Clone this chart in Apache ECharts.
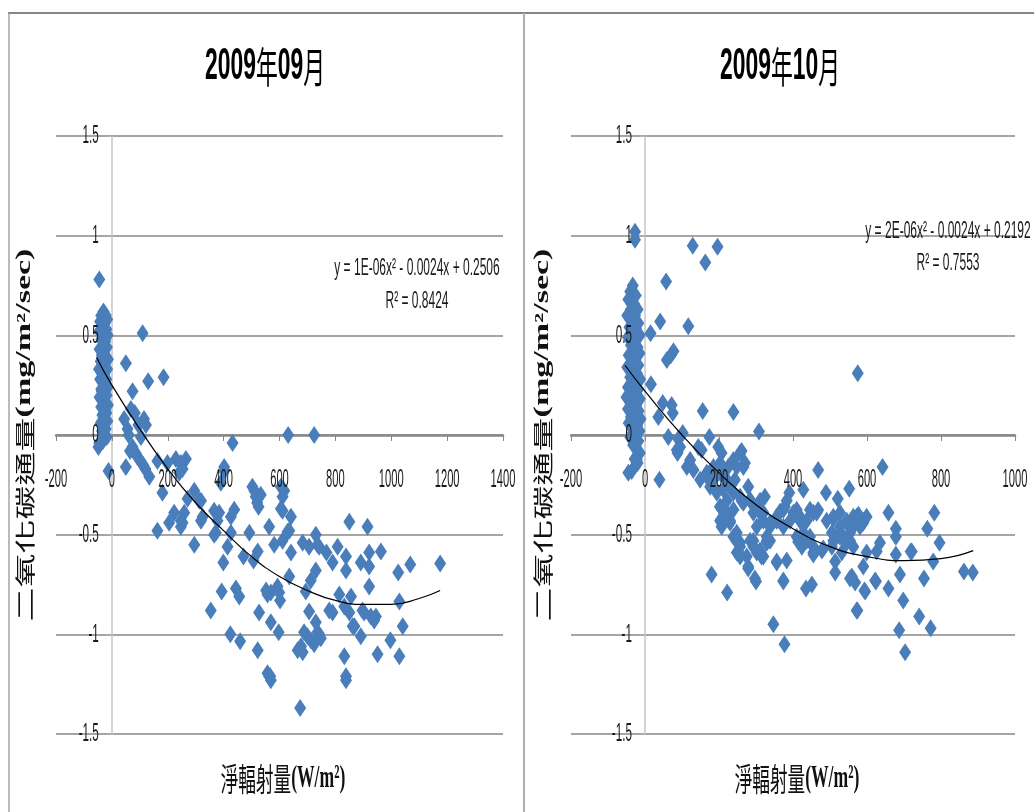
<!DOCTYPE html>
<html>
<head>
<meta charset="utf-8">
<script src="https://cdn.jsdelivr.net/npm/echarts@6/dist/echarts.min.js"></script>
<style>
html,body{margin:0;padding:0;background:#fff;}
#chart{width:1034px;height:812px;}
</style>
</head>
<body>
<div id="chart"></div>
<script>
// ---------------- DATA ----------------
var panelTitles = ['2009年09月', '2009年10月'];
var xAxisName = '淨輻射量(W/m²)';
var yAxisName = '二氧化碳通量(mg/m²/sec)';
var xTicksSep = [-200, 0, 200, 400, 600, 800, 1000, 1200, 1400];
var xTicksOct = [-200, 0, 200, 400, 600, 800, 1000];
var yTicks = [-1.5, -1, -0.5, 0, 0.5, 1, 1.5];
var yTickLabels = ['-1.5', '-1', '-0.5', '0', '0.5', '1', '1.5'];
var equationSep = ['y = 1E-06x² - 0.0024x + 0.2506', 'R² = 0.8424'];
var equationOct = ['y = 2E-06x² - 0.0024x + 0.2192', 'R² = 0.7553'];

// September: [net radiation, CO2 flux]
var sepPoints = [
[-30,0.62],[-38,0.60],[-22,0.60],[-42,0.57],[-26,0.56],[-17,0.58],[-34,0.54],[-20,0.53],[-45,0.52],[-28,0.50],
[-15,0.50],[-38,0.48],[-24,0.47],[-32,0.45],[-18,0.44],[-44,0.43],[-27,0.42],[-36,0.40],[-21,0.39],[-14,0.38],
[-40,0.37],[-30,0.36],[-24,0.34],[-46,0.33],[-17,0.33],[-35,0.31],[-28,0.30],[-42,0.28],[-20,0.28],[-32,0.26],
[-25,0.25],[-15,0.24],[-38,0.23],[-29,0.21],[-19,0.20],[-44,0.19],[-33,0.18],[-23,0.16],[-14,0.15],[-38,0.14],
[-28,0.13],[-20,0.11],[-34,0.10],[-25,0.08],[-16,0.07],[-40,0.06],[-30,0.05],[-22,0.03],[-35,0.02],[-27,0.00],
[-18,-0.01],[-32,-0.03],[-24,0.12],[-31,0.44],[-26,0.35],[-36,0.22],[-45,-0.04],[-48,-0.06],
[-45,0.78],[110,0.51],[50,0.36],[130,0.27],[185,0.29],[74,0.22],[44,0.08],[82,0.11],[122,0.05],[56,0.03],
[104,-0.01],[74,-0.06],[92,-0.11],[102,-0.13],[50,-0.16],[-12,-0.18],[65,-0.08],[85,-0.09],[112,-0.15],[120,-0.17],
[95,0.05],[68,0.13],[60,0.00],[115,0.08],[134,-0.21],[163,-0.13],[199,-0.14],[229,-0.12],[265,-0.12],[241,-0.19],
[247,-0.14],[253,-0.17],[181,-0.29],[223,-0.39],[259,-0.39],[271,-0.32],[295,-0.28],[313,-0.33],[319,-0.33],[319,-0.43],
[325,-0.41],[163,-0.48],[205,-0.44],[253,-0.44],[247,-0.43],[247,-0.46],[295,-0.55],[354,-0.88],
[366,-0.38],[384,-0.39],[378,-0.43],[372,-0.49],[366,-0.50],[402,-0.16],[390,-0.24],[402,-0.18],[426,-0.41],[438,-0.375],
[432,-0.04],[426,-0.49],[414,-0.56],[399,-0.64],[393,-0.785],[444,-0.77],[456,-0.81],[424,-1.0],[459,-1.035],[471,-0.61],
[492,-0.49],[503,-0.26],[510,-0.28],[515,-0.31],[520,-0.34],[525,-0.36],[533,-0.30],[507,-0.63],[522,-0.585],[527,-0.89],
[522,-1.08],[557,-1.195],[567,-1.21],[563,-1.21],[569,-1.23],[557,-0.80],[569,-0.79],[552,-0.78],[593,-0.76],[599,-0.79],
[602,-0.83],[569,-0.94],[597,-0.99],[581,-0.55],[563,-0.46],[605,-0.26],[611,-0.31],[617,-0.28],[605,-0.37],[611,-0.38],
[641,-0.41],[635,-0.48],[629,-0.485],[611,-0.53],[641,-0.59],[635,-0.71],[631,0.0],[724,0.0],
[665,-1.08],[677,-1.06],[683,-1.09],[674,-1.37],[683,-0.54],[706,-0.56],[694,-0.785],[712,-0.73],[706,-0.885],[730,-0.94],
[688,-0.99],[700,-1.01],[712,-1.03],[724,-1.05],[736,-0.99],[748,-1.02],[742,-1.0],[730,-0.50],[736,-0.55],[742,-0.56],
[730,-0.68],[768,-0.59],[790,-0.64],[778,-0.88],[790,-0.89],[808,-0.56],[814,-0.80],[832,-0.86],[832,-1.11],[838,-1.21],
[838,-1.23],[838,-0.61],[838,-0.68],[850,-0.435],[850,-0.89],[856,-0.81],[862,-0.96],[868,-0.96],[891,-0.64],[891,-1.01],
[897,-0.88],[903,-0.89],[915,-0.46],[921,-0.59],[921,-0.66],[921,-0.76],[927,-0.91],[939,-0.93],[945,-0.91],[951,-1.10],
[963,-0.585],[997,-1.03],[1025,-0.69],[1029,-0.835],[1029,-1.11],[1041,-0.96],[1068,-0.65],[1175,-0.645]
];

// October: [net radiation, CO2 flux]
var octPoints = [
[-33,0.75],[-40,0.72],[-25,0.70],[-45,0.68],[-30,0.66],[-20,0.63],[-38,0.63],[-48,0.60],[-27,0.60],[-35,0.57],
[-18,0.56],[-42,0.54],[-24,0.53],[-32,0.51],[-14,0.50],[-46,0.49],[-28,0.47],[-38,0.45],[-20,0.44],[-34,0.42],
[-15,0.41],[-44,0.40],[-26,0.38],[-36,0.36],[-18,0.35],[-48,0.34],[-30,0.32],[-22,0.31],[-40,0.29],[-13,0.28],
[-33,0.27],[-25,0.25],[-46,0.24],[-18,0.23],[-36,0.21],[-28,0.20],[-50,0.19],[-14,0.18],[-40,0.17],[-22,0.16],
[-32,0.14],[-46,0.13],[-17,0.12],[-27,0.11],[-38,0.09],[-12,0.08],[-30,0.07],[-44,0.06],[-21,0.05],[-35,0.03],
[-15,0.02],[-26,0.00],[-40,-0.01],[-18,-0.03],[-32,-0.05],[-22,-0.07],[-14,-0.09],[-28,-0.12],[-20,-0.14],[-36,-0.18],
[-22,-0.125],[-45,-0.19],[-27,1.02],[-27,0.98],[-31,0.55],[-25,0.43],[-29,0.37],[-24,0.15],[-37,0.26],
[57,0.77],[129,0.95],[196,0.945],[163,0.865],[41,0.57],[117,0.545],[15,0.51],[77,0.42],[59,0.376],[70,0.40],
[16,0.255],[48,0.16],[72,0.15],[75,0.11],[36,0.09],[156,0.12],[239,0.115],[308,0.017],[63,-0.01],[90,-0.02],
[95,-0.06],[88,-0.09],[102,0.01],[86,-0.075],[174,-0.01],[144,-0.06],[153,-0.075],[198,-0.06],[207,-0.09],[261,-0.08],
[270,-0.14],[239,-0.125],[248,-0.16],[39,-0.225],[575,0.31],
[113,-0.16],[131,-0.175],[122,-0.125],[167,-0.19],[149,-0.225],[176,-0.26],[185,-0.16],[203,-0.14],[212,-0.21],[225,-0.16],
[243,-0.225],[257,-0.09],[266,-0.16],[194,-0.29],[203,-0.36],[221,-0.33],[212,-0.43],[207,-0.46],[239,-0.375],[230,-0.43],
[248,-0.49],[257,-0.56],[257,-0.61],[261,-0.33],[279,-0.26],[284,-0.33],[293,-0.39],[279,-0.66],[293,-0.53],[302,-0.46],
[311,-0.33],[320,-0.39],[324,-0.31],[315,-0.61],[300,-0.735],[329,-0.53],[338,-0.46],[356,-0.64],[374,-0.735],[383,-0.63],
[356,-0.41],[374,-0.375],[392,-0.43],[383,-0.33],[410,-0.375],[419,-0.43],[428,-0.49],[437,-0.53],[455,-0.56],[446,-0.375],
[464,-0.39],[428,-0.275],[455,-0.60],[478,-0.58],[491,-0.43],[505,-0.49],[509,-0.41],[527,-0.46],[536,-0.51],[545,-0.43],
[554,-0.53],[563,-0.46],[572,-0.41],[581,-0.43],[590,-0.44],[599,-0.41],[532,-0.59],[563,-0.56],[509,-0.53],
[167,-0.21],[185,-0.225],[203,-0.19],[221,-0.225],[212,-0.275],[230,-0.26],[239,-0.29],[257,-0.31],[266,-0.34],[284,-0.325],
[302,-0.36],[311,-0.39],[320,-0.43],[203,-0.43],[230,-0.44],[212,-0.41],[239,-0.51],[257,-0.54],[248,-0.59],[284,-0.53],
[293,-0.56],[275,-0.61],[311,-0.58],[329,-0.54],[203,-0.36],[221,-0.39],
[365,-0.385],[378,-0.36],[401,-0.39],[419,-0.41],[437,-0.43],[455,-0.39],[468,-0.376],[356,-0.43],[338,-0.44],[374,-0.46],
[329,-0.51],[410,-0.51],[428,-0.54],[446,-0.51],[509,-0.42],[527,-0.39],[545,-0.44],[563,-0.41],[577,-0.40],[590,-0.43],
[581,-0.46],[554,-0.49],[527,-0.51],[545,-0.54],[505,-0.56],[518,-0.51],
[180,-0.70],[222,-0.79],[347,-0.95],[377,-1.05],[297,-0.72],[279,-0.67],[320,-0.61],[302,-0.59],[338,-0.53],[257,-0.60],
[248,-0.53],[356,-0.635],[374,-0.73],[435,-0.77],[451,-0.75],[455,-0.59],[482,-0.57],[414,-0.535],[424,-0.56],
[468,-0.175],[642,-0.16],[489,-0.29],[552,-0.27],[521,-0.32],[390,-0.29],[514,-0.635],[514,-0.69],[554,-0.72],[568,-0.74],
[595,-0.785],[574,-0.88],[624,-0.735],[658,-0.39],[678,-0.47],[635,-0.54],[626,-0.585],[678,-0.60],[658,-0.77],[689,-0.70],
[698,-0.83],[687,-0.98],[703,-1.09],[721,-0.585],[741,-0.91],[754,-0.72],[763,-0.47],[772,-0.97],[779,-0.635],[782,-0.39],
[796,-0.54],[862,-0.685],[886,-0.69],[599,-0.59],[590,-0.66],[559,-0.71],[593,-0.78],[622,-0.73],[572,-0.88],[678,-0.51],
[718,-0.585]
];

// Polynomial trendlines
var sepTrendX = [-55, 0, 100, 200, 300, 400, 500, 600, 700, 800, 900, 1000, 1100, 1175];
var sepTrendY = [0.39, 0.25, 0.03, -0.17, -0.34, -0.48, -0.61, -0.71, -0.78, -0.83, -0.85, -0.85, -0.82, -0.78];
var octTrendX = [-54, 0, 100, 200, 300, 400, 500, 600, 700, 800, 887];
var octTrendY = [0.35, 0.22, 0.0, -0.19, -0.35, -0.47, -0.56, -0.61, -0.63, -0.62, -0.58];

// ---------------- CHART ----------------
function zip(xs, ys) { return xs.map(function (x, i) { return [x, ys[i]]; }); }

var GRID_COLOR = '#878787';
var MARKER = '#4A7EBB';
var chart = echarts.init(document.getElementById('chart'), null, {renderer: 'canvas'});

function makeX(idx, max) {
  return {
    gridIndex: idx, type: 'value', min: -200, max: max, interval: 200,
    axisLine: {show: true, onZero: true, lineStyle: {color: GRID_COLOR, width: 2.5}},
    axisTick: {show: true, length: 6, lineStyle: {color: GRID_COLOR, width: 1}},
    axisLabel: {show: false}, splitLine: {show: false}
  };
}
function makeY(idx) {
  return {
    gridIndex: idx, type: 'value', min: -1.5, max: 1.5, interval: 0.5,
    axisLine: {show: true, onZero: true, lineStyle: {color: '#c6c6c6', width: 1.5}},
    axisTick: {show: true, length: 5, lineStyle: {color: '#b0b0b0', width: 1}},
    axisLabel: {show: false},
    splitLine: {show: true, lineStyle: {color: GRID_COLOR, width: 1.5}}
  };
}
function scatter(idx, data) {
  return {
    type: 'scatter', xAxisIndex: idx, yAxisIndex: idx, data: data,
    symbol: 'diamond', symbolSize: [12, 18],
    itemStyle: {color: MARKER, opacity: 1}, z: 3
  };
}
function trend(idx, data) {
  return {
    type: 'line', xAxisIndex: idx, yAxisIndex: idx, data: data,
    smooth: true, showSymbol: false, symbol: 'none',
    lineStyle: {color: '#000', width: 1.2}, z: 5, silent: true
  };
}

chart.setOption({
  animation: false,
  backgroundColor: '#fff',
  grid: [
    {left: 56, top: 136, width: 447, height: 598},
    {left: 571, top: 136, width: 444, height: 598}
  ],
  xAxis: [makeX(0, 1400), makeX(1, 1000)],
  yAxis: [makeY(0), makeY(1)],
  series: [
    scatter(0, sepPoints), trend(0, zip(sepTrendX, sepTrendY)),
    scatter(1, octPoints), trend(1, zip(octTrendX, octTrendY))
  ]
});

// ---------------- TEXT (condensed, like the reference) ----------------
var TICK_FONT = '26px "Liberation Sans", Arial, sans-serif';
var g = [];
function txt(x, y, text, opts) {
  opts = opts || {};
  var style = {
    text: text, fill: opts.fill || '#1a1a1a',
    font: opts.font || TICK_FONT,
    align: opts.align || 'center', verticalAlign: 'middle',
    textAlign: opts.align || 'center', textVerticalAlign: 'middle'
  };
  if (opts.rich) style.rich = opts.rich;
  g.push({
    type: 'text', x: x, y: y, z: 50, silent: true,
    scaleX: opts.sx == null ? 1 : opts.sx, scaleY: opts.sy == null ? 1 : opts.sy,
    rotation: opts.rot || 0, style: style
  });
}

function axisTexts(idx, xTicks) {
  var y0 = chart.convertToPixel({yAxisIndex: idx}, 0);
  var x0 = chart.convertToPixel({xAxisIndex: idx}, 0);
  xTicks.forEach(function (v) {
    txt(chart.convertToPixel({xAxisIndex: idx}, v), y0 + 45, String(v), {sx: 0.43});
  });
  yTicks.forEach(function (v, i) {
    txt(x0 - 13, chart.convertToPixel({yAxisIndex: idx}, v), yTickLabels[i], {sx: 0.45, align: 'right'});
  });
}
axisTexts(0, xTicksSep);
axisTexts(1, xTicksOct);

var titleRich = {
  d: {font: 'bold 44px "Liberation Sans", Arial, sans-serif', fill: '#000'},
  c: {font: '42px "Noto Sans CJK TC", sans-serif', fill: '#000'}
};
function titleText(t) { return '{d|' + t.slice(0, 4) + '}{c|' + t[4] + '}{d|' + t.slice(5, 7) + '}{c|' + t[7] + '}'; }
txt(265, 67, titleText(panelTitles[0]), {sx: 0.52, rich: titleRich});
txt(780, 67, titleText(panelTitles[1]), {sx: 0.52, rich: titleRich});

var nameRich = {
  c: {font: '32px "Noto Sans CJK TC", sans-serif', fill: '#111'},
  l: {font: 'bold 32px "Liberation Serif", serif', fill: '#111'}
};
var xn = xAxisName.indexOf('(');
var xNameRich = '{c|' + xAxisName.slice(0, xn) + '}{l|' + xAxisName.slice(xn) + '}';
txt(283, 779, xNameRich, {sx: 0.55, rich: nameRich});
txt(797, 779, xNameRich, {sx: 0.55, rich: nameRich});

var yNameRichStyle = {
  c: {font: '34px "Noto Sans CJK TC", sans-serif', fill: '#111'},
  l: {font: 'bold 34px "Liberation Serif", serif', fill: '#111'}
};
var yn = yAxisName.indexOf('(');
var yNameRich = '{c|' + yAxisName.slice(0, yn) + '}{l|' + yAxisName.slice(yn) + '}';
txt(25, 435, yNameRich, {rot: Math.PI / 2, sy: 0.6, rich: yNameRichStyle});
txt(543, 435, yNameRich, {rot: Math.PI / 2, sy: 0.6, rich: yNameRichStyle});

var EQ_FONT = '24px "Liberation Sans", Arial, sans-serif';
txt(417, 268, equationSep[0], {sx: 0.5, font: EQ_FONT});
txt(417, 301, equationSep[1], {sx: 0.5, font: EQ_FONT});
txt(948, 231, equationOct[0], {sx: 0.5, font: EQ_FONT});
txt(948, 263, equationOct[1], {sx: 0.5, font: EQ_FONT});

// panel frames
g.push({type: 'line', silent: true, z: 1, shape: {x1: 8, y1: 13, x2: 1034, y2: 13}, style: {stroke: '#858585', lineWidth: 2}});
g.push({type: 'line', silent: true, z: 1, shape: {x1: 9, y1: 13, x2: 9, y2: 812}, style: {stroke: '#a5a5a5', lineWidth: 1.5}});
g.push({type: 'line', silent: true, z: 1, shape: {x1: 524, y1: 13, x2: 524, y2: 812}, style: {stroke: '#b0b0b0', lineWidth: 2}});

chart.setOption({graphic: g});
</script>
</body>
</html>
